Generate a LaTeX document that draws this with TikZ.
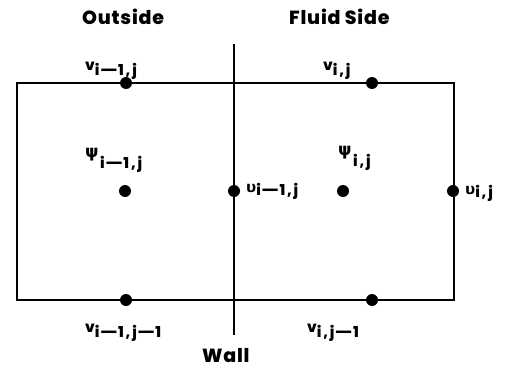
\documentclass[tikz,border=0pt]{standalone}
\usepackage{graphicx}
\usepackage{fontspec}
\setmainfont{Poppins}[BoldFont={Poppins ExtraBold}]
\newfontfamily\grk{DejaVu Sans}
\newcommand{\dsh}{\scalebox{1.8}[1]{–}}
\newcommand{\lab}[2]{\raisebox{5pt}{#1}#2}
\newcommand{\ulab}[2]{\raisebox{3pt}{\grk\bfseries\fontsize{15}{15}\selectfont #1}#2}
\newcommand{\plab}[2]{\raisebox{11pt}{\grk\bfseries\fontsize{17}{17}\selectfont #1}\hspace{1.5pt}#2}
\begin{document}
\begin{tikzpicture}[x=1pt,y=-1pt,
  edge/.style={line width=2.8pt},
  dot/.style={circle,fill=black,inner sep=0pt,minimum size=12pt},
  lbl/.style={inner sep=0pt,anchor=base west,font=\bfseries\fontsize{15}{15}\selectfont\addfontfeature{LetterSpace=12}},
  title/.style={inner sep=0pt,anchor=base west,font=\bfseries\fontsize{19}{19}\selectfont\addfontfeature{LetterSpace=4}}]
\useasboundingbox (0,0) rectangle (508,369);
\coordinate (TL) at (17,83);
\coordinate (TR) at (454,83);
\coordinate (BR) at (454,300);
\coordinate (BL) at (17,300);
\coordinate (WT) at (234,44);
\coordinate (WB) at (234,335);
\draw[edge] (TL) -- (TR) -- (BR) -- (BL) -- cycle;
\draw[edge] (WT) -- (WB);
\node[dot] (vt1) at (126,83) {};
\node[dot] (vt2) at (372,83) {};
\node[dot] (vb1) at (126,300) {};
\node[dot] (vb2) at (372,300) {};
\node[dot] (p1) at (125,191) {};
\node[dot] (p2) at (343,191) {};
\node[dot] (uw) at (234,191) {};
\node[dot] (ur) at (453,191) {};
\node[title] (out) at (82,25) {Outside};
\node[title] (fl) at (289,25) {Fluid Side};
\node[title] (wall) at (202,362) {Wall};
\node[lbl] (lvt1) at (85,75) {\lab{v}{i\dsh1,j}};
\node[lbl] (lvt2) at (323,75) {\lab{v}{i,j}};
\node[lbl] (lvb1) at (85,337) {\lab{v}{i\dsh1,j\dsh1}};
\node[lbl] (lvb2) at (307,337) {\lab{v}{i,j\dsh1}};
\node[lbl] (lp1) at (85,168) {\plab{ψ}{i\dsh1,j}};
\node[lbl] (lp2) at (338,166) {\plab{ψ}{i,j}};
\node[lbl] (lu1) at (246,195) {\ulab{υ}{i\dsh1,j}};
\node[lbl] (lu2) at (465,197) {\ulab{υ}{i,j}};
\end{tikzpicture}
\end{document}
